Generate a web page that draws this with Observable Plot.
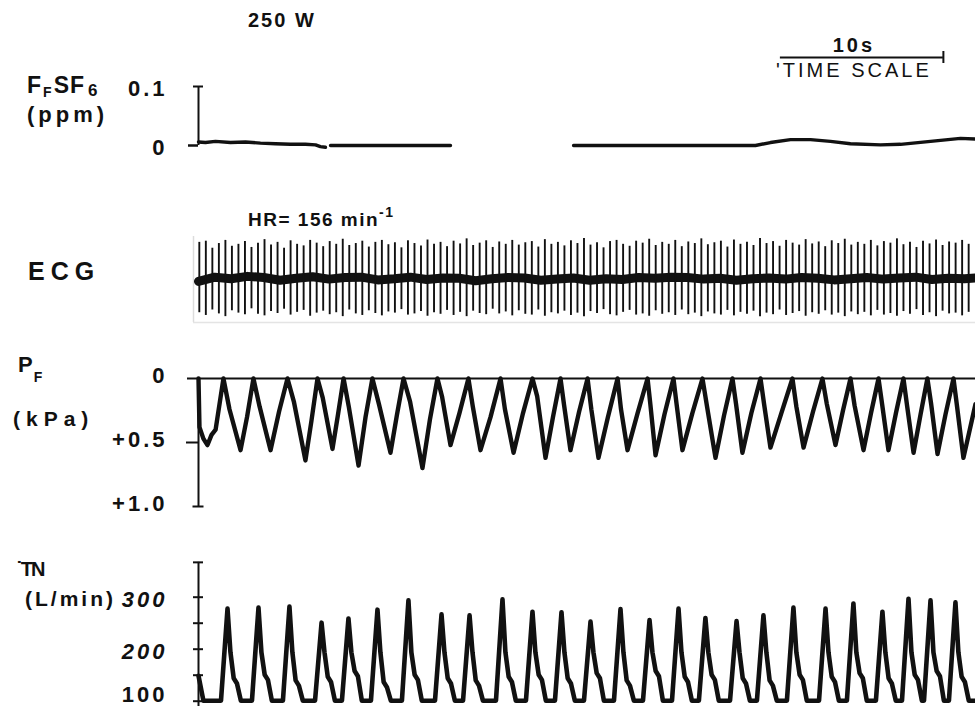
<!DOCTYPE html>
<html><head><meta charset="utf-8">
<script src="https://cdn.jsdelivr.net/npm/d3@7"></script>
<script src="https://cdn.jsdelivr.net/npm/@observablehq/plot@0.6"></script>
<style>
body{margin:0;background:#fff;}
#chart{position:relative;width:975px;height:706px;overflow:hidden;background:#fff;font-family:"Liberation Sans",Arial,Helvetica,sans-serif;color:#111;}
.lbl{position:absolute;line-height:1;font-weight:bold;white-space:nowrap;}
.panel{position:absolute;left:0;}
</style></head><body><div id="chart"></div>
<script>
// ---------- time axis (s) ----------
const tDomain = [0, 47.67];
const timeBar = {start: 35.7, length: 10, label: "10s", caption: "'TIME SCALE"};

// ---------- F_F SF6 (ppm); NaN = gap in the record ----------
const sf6T = [0,0.43,1.04,1.96,2.88,3.80,4.72,5.64,6.56,7.18,7.48,7.79,7.95,8.10,15.46,15.6,23.01,34.17,35.09,36.32,37.55,38.77,40.0,41.84,43.07,44.91,46.75,47.67];
const sf6V = [0.006,0.005,0.007,0.005,0.006,0.004,0.003,0.002,0.002,0.001,-0.002,-0.003,NaN,0,0,NaN,0,0,0.005,0.010,0.010,0.007,0.003,0.001,0.002,0.007,0.012,0.011];
const sf6Ticks = [0, 0.1];

// ---------- ECG ----------
const ecgFirst = 0.05;      // s, first beat
const ecgRR = 0.40;         // s, spike spacing
const ecgTop = [0.95,0.98,0.80,0.92,1.00,0.85,0.90,0.97,0.82,0.93,
1.02,0.88,0.95,0.80,0.99,0.90,0.86,1.00,0.93,0.84,
0.97,0.90,1.03,0.87,0.92,0.98,0.83,0.95,1.00,0.89,
0.94,0.81,0.99,0.92,0.86,1.01,0.90,0.95,0.84,0.98,
0.91,1.04,0.87,0.93,0.99,0.82,0.96,0.90,1.00,0.88,
0.94,0.97,0.83,1.02,0.90,0.95,0.86,0.99,0.92,1.05,
0.88,0.94,0.81,0.97,1.00,0.90,0.85,0.98,0.93,1.03,
0.87,0.95,0.90,1.00,0.84,0.96,0.92,1.04,0.89,0.94,
0.98,0.83,1.01,0.90,0.95,0.87,1.05,0.92,0.97,0.85,
1.00,0.93,0.88,1.02,0.91,0.96,0.84,0.99,0.92,1.03,
0.88,0.95,0.90,1.00,0.86,0.97,0.93,1.04,0.89,0.95,
0.82,0.98,0.91,1.01,0.87,0.96,0.93,1.00,0.90];
const ecgBottom = [-0.85,-0.92,-0.78,-0.88,-0.95,-0.80,-0.86,-0.90,-0.75,-0.89,
-0.93,-0.82,-0.87,-0.76,-0.91,-0.84,-0.79,-0.94,-0.86,-0.81,
-0.90,-0.85,-0.95,-0.78,-0.88,-0.92,-0.80,-0.87,-0.93,-0.83,
-0.86,-0.77,-0.91,-0.88,-0.82,-0.94,-0.85,-0.89,-0.79,-0.92,
-0.84,-0.95,-0.81,-0.87,-0.90,-0.76,-0.88,-0.83,-0.93,-0.80,
-0.89,-0.91,-0.78,-0.94,-0.85,-0.88,-0.81,-0.92,-0.86,-0.95,
-0.82,-0.87,-0.77,-0.90,-0.93,-0.84,-0.79,-0.91,-0.88,-0.94,
-0.80,-0.89,-0.85,-0.92,-0.78,-0.90,-0.86,-0.95,-0.83,-0.88,
-0.91,-0.79,-0.93,-0.84,-0.89,-0.81,-0.95,-0.86,-0.90,-0.78,
-0.92,-0.87,-0.82,-0.94,-0.85,-0.89,-0.80,-0.91,-0.86,-0.95,
-0.83,-0.90,-0.84,-0.93,-0.79,-0.91,-0.87,-0.94,-0.82,-0.89,
-0.77,-0.92,-0.85,-0.95,-0.81,-0.88,-0.86,-0.93,-0.84];
const ecgBaseT = [0,1,2,3,4,5,6,7,8,9,10,11,12,13,14,15,16,17,18,19,20,21,22,23,24,25,26,27,28,29,30,31,32,33,34,35,36,37,38,39,40,41,42,43,44,45,46,47,47.67];
const ecgBaseV = [-0.05,0.06,0.02,0.08,0.05,-0.02,0.03,0.07,0.01,0.05,0.06,-0.01,0.02,0.06,0.0,0.04,0.03,-0.03,0.02,0.05,0.04,-0.02,0.01,0.04,-0.02,0.02,0.0,0.05,0.03,0.06,0.05,0.01,0.03,-0.02,0.02,0.04,0.01,0.05,0.03,-0.01,0.02,0.05,0.01,0.04,0.06,0.0,0.03,0.02,0.04];
const ecgYDomain = [-1.1, 1.1];

// ---------- P_F (kPa), vertices of the trace ----------
const pfT = [0.00,0.06,0.30,0.55,0.80,1.05,
1.53,1.90,2.58,2.98, 3.37,3.75,4.42,4.94, 5.46,5.85,6.56,6.93, 7.30,7.62,8.22,8.56,
8.90,9.22,9.82,10.25, 10.67,11.07,11.78,12.18, 12.58,12.98,13.74,14.20, 14.66,14.94,15.46,16.01,
16.56,16.83,17.30,17.92, 18.53,18.80,19.33,19.91, 20.49,20.78,21.29,21.75, 22.21,22.42,22.82,23.35,
23.87,24.10,24.54,25.12, 25.71,25.92,26.32,26.94, 27.55,27.72,28.04,28.59, 29.14,29.33,29.69,30.30,
30.92,31.20,31.72,32.24, 32.76,32.98,33.37,33.92, 34.48,34.70,35.09,35.76, 36.44,36.68,37.12,37.70,
38.28,38.55,39.08,39.54, 40.00,40.25,40.80,41.26, 41.72,41.94,42.33,42.79, 43.25,43.48,43.87,44.30,
44.72,44.95,45.34,45.83, 46.32,46.53,46.93,47.67];
const pfV = [0.00,0.38,0.47,0.52,0.44,0.40,
0,0.24,0.56,0.30, 0,0.22,0.56,0.26, 0,0.18,0.64,0.33, 0,0.15,0.55,0.28,
0,0.22,0.68,0.30, 0,0.20,0.58,0.28, 0,0.18,0.70,0.32, 0,0.14,0.52,0.27,
0,0.22,0.56,0.30, 0,0.24,0.58,0.27, 0,0.14,0.62,0.30, 0,0.20,0.56,0.26,
0,0.24,0.62,0.30, 0,0.24,0.56,0.27, 0,0.20,0.60,0.28, 0,0.20,0.56,0.27,
0,0.22,0.62,0.29, 0,0.20,0.58,0.27, 0,0.20,0.54,0.27, 0,0.22,0.54,0.26,
0,0.20,0.52,0.25, 0,0.21,0.56,0.27, 0,0.20,0.56,0.27, 0,0.22,0.58,0.28,
0,0.20,0.59,0.28, 0,0.21,0.62,0.20];
const pfTicks = [0, 0.5, 1.0];

// ---------- inspiratory flow (L/min) ----------
const vtPeakT = [1.78,3.68,5.58,7.55,9.20,10.98,12.88,14.91,16.63,18.65,20.49,22.27,24.05,25.89,27.67,29.45,31.10,33.01,34.66,36.50,38.47,40.18,41.96,43.56,44.91,46.44];
const vtPeakV = [278,280,282,251,259,276,294,267,265,296,272,271,253,277,256,278,260,254,265,280,278,288,272,297,294,290];
const vtKneeV = [144,151,140,147,158,137,151,144,140,147,151,144,154,140,158,147,151,144,140,151,147,154,144,151,158,147];
const vtBase = 101, vtStartV = 149, vtDescentV = 194;
const vtDomain = [100, 350];
const vtAxisTop = 367;
const vtTickVals = [100, 150, 200, 250, 300, vtAxisTop];
const vtLabelVals = [100, 200, 300];

// ---------- build tables ----------
const sf6 = sf6T.map((t, i) => ({t, v: sf6V[i]}));
const beats = ecgTop.slice(0, ecgBottom.length).map((top, i) => ({t: ecgFirst + i * ecgRR, top, bottom: ecgBottom[i]}));
const ecgBase = ecgBaseT.map((t, i) => ({t, v: ecgBaseV[i]}));
const pf = pfT.slice(0, pfV.length).map((t, i) => ({t, v: pfV[i]}));
const vt = [{t: 0, v: vtStartV}, {t: 0.3, v: vtBase}];
vtPeakT.forEach((p, i) => {
  vt.push({t: p - 0.40, v: vtBase}, {t: p, v: vtPeakV[i]}, {t: p + 0.18, v: vtDescentV},
          {t: p + 0.38, v: vtKneeV[i]}, {t: p + 0.58, v: vtKneeV[i] - 10}, {t: p + 0.82, v: vtBase});
});
vt.push({t: tDomain[1], v: vtBase});

const FONT = '"Liberation Sans", Arial, Helvetica, sans-serif';
const INK = "#111";
const common = {width: 975, marginLeft: 198, marginRight: 0, x: {domain: tDomain, axis: null}};
const chart = document.getElementById("chart");
function place(svg, top) { svg.classList.add("panel"); svg.style.top = top + "px"; chart.appendChild(svg); }
const panelStyle = {fontFamily: FONT, background: "transparent", color: INK, letterSpacing: "3px", overflow: "visible"};
const fmt = d => String(d);

// Panel 1: F_F SF6
place(Plot.plot({
  ...common, height: 175, marginTop: 86, marginBottom: 30,
  style: panelStyle,
  y: {domain: [0, 0.1], axis: null},
  marks: [
    Plot.ruleX([tDomain[0]], {y1: 0, y2: 0.1, stroke: INK, strokeWidth: 2}),
    Plot.axisY([0.1], {tickSize: 10, dx: 5, tickFormat: () => "", stroke: INK, strokeWidth: 2, label: null}),
    Plot.axisY([0], {tickSize: 10, tickFormat: () => "", stroke: INK, strokeWidth: 2.5, label: null}),
    Plot.axisY(sf6Ticks, {tickSize: 0, tickPadding: 31, dy: 2, fontSize: 22, fontWeight: "bold", fill: INK, label: null, tickFormat: fmt}),
    Plot.line(sf6, {x: "t", y: "v", stroke: INK, strokeWidth: 3.4}),
    Plot.ruleY([timeBar], {x1: "start", x2: d => d.start + d.length, y: 0.1, dy: -29, stroke: INK, strokeWidth: 2}),
    Plot.ruleX([timeBar], {x: d => d.start + d.length, y1: 0.1, y2: 0.1, insetTop: -6, insetBottom: -6, dy: -29, stroke: INK, strokeWidth: 2}),
    Plot.text([timeBar], {x: d => d.start + d.length / 2, y: 0.1, dy: -41, dx: -8, text: "label", fontSize: 20, fontWeight: "bold", fill: INK}),
    Plot.text([timeBar], {x: d => d.start + d.length / 2, y: 0.1, dy: -16, dx: -8, text: "caption", fontSize: 20, fill: INK})
  ]
}), 0);

// Panel 2: ECG
place(Plot.plot({
  ...common, height: 130, marginTop: 36, marginBottom: 8,
  style: panelStyle,
  y: {domain: ecgYDomain, axis: null},
  marks: [
    Plot.ruleX([tDomain[0]], {dx: -5, stroke: "#dcdcdc", strokeWidth: 1.5}),
    Plot.ruleY([ecgYDomain[0]], {insetLeft: -5, stroke: "#e4e4e4", strokeWidth: 1.5}),
    Plot.line(ecgBase, {x: "t", y: "v", stroke: INK, strokeWidth: 9}),
    Plot.ruleX(beats, {x: "t", y1: "bottom", y2: "top", stroke: INK, strokeWidth: 1.9})
  ]
}), 200);

// Panel 3: P_F
place(Plot.plot({
  ...common, height: 180, marginTop: 38, marginBottom: 14,
  style: panelStyle,
  y: {domain: [1, 0], axis: null},
  marks: [
    Plot.ruleY([0], {insetLeft: -11, stroke: INK, strokeWidth: 2}),
    Plot.ruleX([tDomain[0]], {y1: 0, y2: 1, stroke: INK, strokeWidth: 2}),
    Plot.axisY([0.5], {tickSize: 12, tickFormat: () => "", stroke: INK, strokeWidth: 2, label: null}),
    Plot.axisY([1.0], {tickSize: 11, dx: 5.5, tickFormat: () => "", stroke: INK, strokeWidth: 2, label: null}),
    Plot.axisY(pfTicks, {tickSize: 0, tickPadding: 31, dy: -3, fontSize: 22, fontWeight: "bold", fill: INK, label: null,
      tickFormat: d => d === 0 ? "0" : "+" + d.toFixed(1)}),
    Plot.line(pf, {x: "t", y: "v", stroke: INK, strokeWidth: 4.4, strokeLinejoin: "round"})
  ]
}), 340);

// Panel 4: flow
place(Plot.plot({
  ...common, height: 166, marginTop: 30.7, marginBottom: 5.3,
  style: panelStyle,
  y: {domain: vtDomain, axis: null},
  marks: [
    Plot.ruleX([tDomain[0]], {y1: vtAxisTop, y2: vtDomain[0], insetBottom: -12, stroke: INK, strokeWidth: 2}),
    Plot.axisY(vtTickVals, {tickSize: 10, dx: 5, tickFormat: () => "", stroke: INK, strokeWidth: 2, label: null}),
    Plot.axisY(vtLabelVals.filter(d => d > 100), {tickSize: 0, tickPadding: 31, dy: 3, fontSize: 22, fontWeight: "bold", fontStyle: "italic", fill: INK, label: null, tickFormat: fmt}),
    Plot.axisY(vtLabelVals.filter(d => d <= 100), {tickSize: 0, tickPadding: 31, dy: -6, fontSize: 22, fontWeight: "bold", fill: INK, label: null, tickFormat: fmt}),
    Plot.line(vt, {x: "t", y: "v", stroke: INK, strokeWidth: 4.6, strokeLinejoin: "round"})
  ]
}), 540);

// ---------- text labels ----------
const labels = [
  {html: "250 W", left: 248, top: 10, size: 20, ls: 2},
  {html: 'F<span style="font-size:14px;position:relative;top:4px;margin:0 1px">F</span>SF<span style="font-size:17px;position:relative;top:3px;margin-left:3px">6</span>', left: 27, top: 74, size: 23, ls: 1},
  {html: "(ppm)", left: 27, top: 104, size: 22, ls: 4},
  {html: 'HR= 156 min<span style="font-size:14px;position:relative;top:-9px">-1</span>', left: 248, top: 210, size: 19, ls: 1.5},
  {html: "ECG", left: 28, top: 259, size: 25, ls: 6},
  {html: 'P<span style="font-size:14px;position:relative;top:10px;margin-left:1px">F</span>', left: 18, top: 354, size: 22, ls: 0},
  {html: "(kPa)", left: 13, top: 408, size: 21, ls: 6},
  {html: "˙TN", left: 16, top: 559, size: 20, ls: -2},
  {html: "(L/min)", left: 25, top: 588, size: 21, ls: 3}
];
labels.forEach(l => {
  const d = document.createElement("div");
  d.className = "lbl";
  d.innerHTML = l.html;
  Object.assign(d.style, {left: l.left + "px", top: l.top + "px", fontSize: l.size + "px", letterSpacing: l.ls + "px"});
  chart.appendChild(d);
});
</script></body></html>
